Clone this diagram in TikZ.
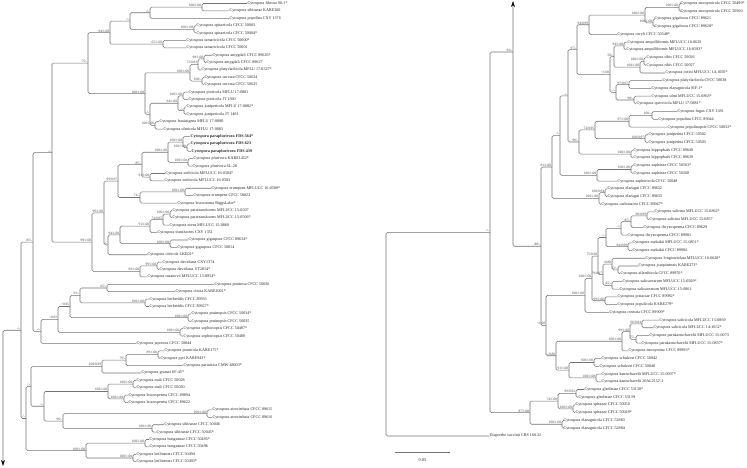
\documentclass[tikz,border=0pt]{standalone}
\usepackage{fontspec}
\setmainfont{Liberation Serif}
\usetikzlibrary{calc,arrows.meta}
\tikzset{
  br/.style={draw=black!55, line width=0.55pt, rounded corners=1.5pt},
  lf/.style={anchor=west, inner sep=0.5pt, text=black!85, font=\fontsize{4.1}{4.5}\selectfont},
  sp/.style={anchor=south east, inner sep=0.3pt, xshift=-0.3pt, text=black!72, font=\fontsize{3.5}{4}\selectfont},
  sbl/.style={inner sep=0.5pt, text=black!80, font=\fontsize{4.5}{5}\selectfont},
  tip/.style={{Stealth[length=6pt,width=3.8pt,black]}-}
}
\newcommand\LeafL[3]{\coordinate (ll#1) at ({#2-1},{3.5+(#1-1)*7.39}); \node[lf] (tll#1) at (ll#1) {#3};}
\newcommand\LeafR[3]{\coordinate (rl#1) at ({#2-1},{3.5+(#1-1)*7.72}); \node[lf] (trl#1) at (rl#1) {#3};}
\newcommand\Inode[5]{%
  \path let \p1=($(#3)!0.5!(#4)$) in coordinate (#1) at (#2pt,\y1);
  \draw[br] (#1) |- (#3) (#1) |- (#4);
  \node[sp] (s#1) at (#1) {#5};}
\begin{document}
\begin{tikzpicture}[x=1pt,y=-1pt]
\fill[white] (0,0) rectangle (747,467);
\useasboundingbox (0,0) rectangle (747,467);
% ---------------- left leaves
\LeafL{1}{248}{Cytospora fibrosa 90-1*}
\LeafL{2}{230}{Cytospora sibiraeae KARE300}
\LeafL{3}{230}{Cytospora populina CXY 1376}
\LeafL{4}{197}{Cytospora spiraeicola CFCC 50003}
\LeafL{5}{197}{Cytospora spiraeicola CFCC 50004*}
\LeafL{6}{187}{Cytospora tamaricicola CFCC 50000*}
\LeafL{7}{187}{Cytospora tamaricicola CFCC 50001}
\LeafL{8}{213}{Cytospora amygdali CFCC 89626*}
\LeafL{9}{207}{Cytospora amygdali CFCC 89627}
\LeafL{10}{202}{Cytospora platycladicola MFLU 17-0327*}
\LeafL{11}{205}{Cytospora curvata CFCC 50624}
\LeafL{12}{205}{Cytospora curvata CFCC 50625}
\LeafL{13}{189}{Cytospora piceicola MFLU 17-0881}
\LeafL{14}{189}{Cytospora piceicola JT 1360}
\LeafL{15}{187}{Cytospora junipericola MFLU 17-0882*}
\LeafL{16}{187}{Cytospora junipericola JT 1463}
\LeafL{17}{160}{Cytospora fraxinigena MFLU 17-0880}
\LeafL{18}{164}{Cytospora ulmicola MFLU 17-0883}
\LeafL{19}{191}{\bfseries Cytospora paraplurivora FDS-564*}
\LeafL{20}{191}{\bfseries Cytospora paraplurivora FDS-623}
\LeafL{21}{192}{\bfseries Cytospora paraplurivora FDS-439}
\LeafL{22}{194}{Cytospora plurivora KARE1452*}
\LeafL{23}{193}{Cytospora plurivora SL-28}
\LeafL{24}{166}{Cytospora sorbicola MFLUCC 16-0584*}
\LeafL{25}{165}{Cytospora sorbicola MFLUCC 16-0583}
\LeafL{26}{212}{Cytospora erumpens MFLUCC 16-0580*}
\LeafL{27}{194}{Cytospora erumpens CFCC 50022}
\LeafL{28}{178}{Cytospora leucostoma BiggsLalor*}
\LeafL{29}{173}{Cytospora paratranslucens MFLUCC 15-0507}
\LeafL{30}{173}{Cytospora paratranslucens MFLUCC 15-0506*}
\LeafL{31}{170}{Cytospora nivea MFLUCC 15-0860}
\LeafL{32}{158}{Cytospora translucens CXY 1351}
\LeafL{33}{189}{Cytospora gigaspora CFCC 89634*}
\LeafL{34}{178}{Cytospora gigaspora CFCC 50014}
\LeafL{35}{148}{Cytospora oleicola LKE01*}
\LeafL{36}{163}{Cytospora davidiana CXY1374}
\LeafL{37}{160}{Cytospora davidiana YT2014*}
\LeafL{38}{148}{Cytospora rusanovii MFLUCC 15-0854*}
\LeafL{39}{215}{Cytospora pruinosa CFCC 50036}
\LeafL{40}{176}{Cytospora cincta KARE1001*}
\LeafL{41}{150}{Cytospora berberidis CFCC 89933}
\LeafL{42}{150}{Cytospora berberidis CFCC 89927*}
\LeafL{43}{192}{Cytospora pruinopsis CFCC 50034*}
\LeafL{44}{192}{Cytospora pruinopsis CFCC 50035}
\LeafL{45}{184}{Cytospora sophoriopsis CFCC 50487*}
\LeafL{46}{184}{Cytospora sophoriopsis CFCC 50488}
\LeafL{47}{137}{Cytospora japonica CFCC 50044}
\LeafL{48}{165}{Cytospora prunicola KARE175*}
\LeafL{49}{161}{Cytospora pyri KARE943*}
\LeafL{50}{184}{Cytospora parasitica CMW 48003*}
\LeafL{51}{142}{Cytospora granati SF-45*}
\LeafL{52}{137}{Cytospora mali CFCC 50028}
\LeafL{53}{137}{Cytospora mali CFCC 50030}
\LeafL{54}{129}{Cytospora leucosperma CFCC 89894}
\LeafL{55}{129}{Cytospora leucosperma CFCC 89622}
\LeafL{56}{213}{Cytospora atrocirrhata CFCC 89615}
\LeafL{57}{213}{Cytospora atrocirrhata CFCC 89616}
\LeafL{58}{165}{Cytospora sibiraeae CFCC 50046}
\LeafL{59}{157}{Cytospora sibiraeae CFCC 50045*}
\LeafL{60}{150}{Cytospora bungeanae CFCC 50495*}
\LeafL{61}{150}{Cytospora bungeanae CFCC 50496}
\LeafL{62}{137}{Cytospora beilinensis CFCC 50494}
\LeafL{63}{137}{Cytospora beilinensis CFCC 50493*}
% ---------------- left internal nodes
\Inode{nA1}{202}{ll1}{ll2}{100/1.00}
\Inode{nA2}{150}{nA1}{ll3}{-/-}
\Inode{nA3}{194}{ll4}{ll5}{100/1.00}
\Inode{nA4}{130}{nA2}{nA3}{-/-}
\Inode{nA5}{163}{ll6}{ll7}{65/1.00}
\Inode{nA6}{110}{nA4}{nA5}{94/1.00}
\Inode{nC1}{204}{ll8}{ll9}{98/1.00}
\Inode{nC2}{198}{nC1}{ll10}{72/0.83}
\Inode{nC4}{202}{ll11}{ll12}{100/-}
\Inode{nC3}{190}{nC2}{nC4}{100/1.00}
\Inode{nD1}{183}{ll13}{ll14}{100/1.00}
\Inode{nD2}{184}{ll15}{ll16}{-/-}
\Inode{nD3}{178}{nD1}{nD2}{94/1.00}
\Inode{nD4}{155}{ll17}{ll18}{100/1.00}
\Inode{nD5}{150}{nD3}{nD4}{-/-}
\Inode{nCD}{145}{nC3}{nD5}{100/1.00}
\Inode{B}{88}{nA6}{nCD}{75/-}
\Inode{nE1}{187}{ll20}{ll21}{100/1.00}
\Inode{nE2}{183}{ll19}{nE1}{100/1.00}
\Inode{nE3}{188}{ll22}{ll23}{100/1.00}
\Inode{nE4}{168}{nE2}{nE3}{100/1.00}
\Inode{nE5}{150}{ll24}{ll25}{91/1.00}
\Inode{nE6}{142}{nE4}{nE5}{85/-}
\Inode{nE7}{185}{ll26}{ll27}{100/1.00}
\Inode{nE8}{140}{nE7}{ll28}{74/-}
\Inode{nE9}{118}{nE6}{nE8}{99/0.97}
\Inode{nF1}{170}{ll29}{ll30}{100/1.00}
\Inode{nF2}{163}{nF1}{ll31}{74/0.95}
\Inode{nF3}{150}{nF2}{ll32}{91/1.00}
\Inode{nF4}{170}{ll33}{ll34}{100/1.00}
\Inode{nF5}{120}{nF3}{nF4}{94/1.00}
\Inode{nF6}{108}{nF5}{ll35}{-/-}
\Inode{nE10}{104}{nE9}{nF6}{99/1.00}
\Inode{nG1}{157}{ll36}{ll37}{99/1.00}
\Inode{nG2}{140}{nG1}{ll38}{99/1.00}
\Inode{E}{92}{nE10}{nG2}{99/1.00}
\Inode{AB}{52}{B}{E}{-/-}
\Inode{nS1}{107}{ll39}{ll40}{65/-}
\Inode{nS1b}{145}{ll41}{ll42}{100/1.00}
\Inode{nS2}{80}{nS1}{nS1b}{93/-}
\Inode{nS3b}{188}{ll43}{ll44}{100/1.00}
\Inode{nS3}{70}{nS2}{nS3b}{<0.95}
\Inode{nS4b}{180}{ll45}{ll46}{100/1.00}
\Inode{nS4}{58}{nS3}{nS4b}{<0.92}
\Inode{S}{41}{nS4}{ll47}{-/-}
\Inode{Q}{33}{AB}{S}{85/-}
\Inode{nT1}{158}{ll48}{ll49}{89/1.00}
\Inode{nT2}{126}{nT1}{ll50}{79/-}
\Inode{nT3}{102}{nT2}{ll51}{100/0.99}
\Inode{nT4}{133}{ll52}{ll53}{100/1.00}
\Inode{nT5}{124}{ll54}{ll55}{100/1.00}
\Inode{nT6}{108}{nT4}{nT5}{100/1.00}
\Inode{nT8}{207}{ll56}{ll57}{100/1.00}
\Inode{nT10}{152}{ll58}{ll59}{100/1.00}
\Inode{nT9}{63}{nT8}{nT10}{96/-}
\Inode{nT11}{44}{nT6}{nT9}{-/-}
\Inode{U}{31}{nT3}{nT11}{-/-}
\Inode{nV1}{145}{ll60}{ll61}{100/1.00}
\Inode{nV2}{133}{ll62}{ll63}{100/1.00}
\Inode{V}{86}{nV1}{nV2}{100/1.00}
\Inode{T}{26}{U}{V}{-/-}
\Inode{P1}{21}{Q}{T}{-/-}
\coordinate (Lbot) at (3,466);
\draw[br,tip] (Lbot) |- (P1);
% ---------------- right leaves
\LeafR{1}{681}{Cytospora euonymicola CFCC 50499*}
\LeafR{2}{681}{Cytospora euonymicola CFCC 50500}
\LeafR{3}{655}{Cytospora gigalocus CFCC 89621}
\LeafR{4}{655}{Cytospora gigalocus CFCC 89620*}
\LeafR{5}{618}{Cytospora coryli CFCC 50548*}
\LeafR{6}{628}{Cytospora ampulliformis MFLUCC 16-0629}
\LeafR{7}{627}{Cytospora ampulliformis MFLUCC 16-0583*}
\LeafR{8}{647}{Cytospora ribis CFCC 50026}
\LeafR{9}{647}{Cytospora ribis CFCC 50027}
\LeafR{10}{666}{Cytospora cotini MFLUCC 14-1050*}
\LeafR{11}{663}{Cytospora platycladicola CFCC 50038}
\LeafR{12}{652}{Cytospora elaeagnicola SIF-1*}
\LeafR{13}{652}{Cytospora ulmi MFLUCC 15-0863*}
\LeafR{14}{637}{Cytospora quercicola MFLU 17-0881*}
\LeafR{15}{678}{Cytospora fugax CXY 1381}
\LeafR{16}{659}{Cytospora populina CFCC 89644}
\LeafR{17}{668}{Cytospora populinopsis CFCC 50032*}
\LeafR{18}{649}{Cytospora juniperina CFCC 50502}
\LeafR{19}{649}{Cytospora juniperina CFCC 50503}
\LeafR{20}{634}{Cytospora hippophaës CFCC 89640}
\LeafR{21}{634}{Cytospora hippophaës CFCC 89639}
\LeafR{22}{634}{Cytospora sophorae CFCC 50563*}
\LeafR{23}{634}{Cytospora sophorae CFCC 50568}
\LeafR{24}{618}{Cytospora sophoricola CFCC 50048}
\LeafR{25}{608}{Cytospora elaeagni CFCC 89632}
\LeafR{26}{608}{Cytospora elaeagni CFCC 89633}
\LeafR{27}{602}{Cytospora carbonacea CFCC 89947*}
\LeafR{28}{655}{Cytospora salicina MFLUCC 15-0862*}
\LeafR{29}{650}{Cytospora salicina MFLUCC 15-0857}
\LeafR{30}{644}{Cytospora chrysosperma CFCC 89629}
\LeafR{31}{628}{Cytospora chrysosperma CFCC 89981}
\LeafR{32}{633}{Cytospora melnikii MFLUCC 15-0851*}
\LeafR{33}{633}{Cytospora melnikii CFCC 89984}
\LeafR{34}{646}{Cytospora longiostiolata MFLUCC 16-0628*}
\LeafR{35}{639}{Cytospora joaquinensis KARE273*}
\LeafR{36}{621}{Cytospora ailanthicola CFCC 89970*}
\LeafR{37}{623}{Cytospora salicacearum MFLUCC 15-0509*}
\LeafR{38}{620}{Cytospora salicacearum MFLUCC 15-0861}
\LeafR{39}{618}{Cytospora pistaciae CFCC 89982*}
\LeafR{40}{618}{Cytospora populicola KARE279*}
\LeafR{41}{610}{Cytospora rostrata CFCC 89909*}
\LeafR{42}{660}{Cytospora salicicola MFLUCC 15-0869}
\LeafR{43}{654}{Cytospora salicicola MFLUCC 14-1052*}
\LeafR{44}{650}{Cytospora parakantschavelii MFLUCC 15-0073}
\LeafR{45}{642}{Cytospora parakantschavelii MFLUCC 15-0857*}
\LeafR{46}{629}{Cytospora euonymina CFCC 89993*}
\LeafR{47}{602}{Cytospora schulzeri CFCC 50042}
\LeafR{48}{600}{Cytospora schulzeri CFCC 50040}
\LeafR{49}{602}{Cytospora kantschavelii MFLUCC 15-0507*}
\LeafR{50}{602}{Cytospora kantschavelii 20AL2152-1}
\LeafR{51}{585}{Cytospora gleditsiae CFCC 53138*}
\LeafR{52}{579}{Cytospora gleditsiae CFCC 53139}
\LeafR{53}{576}{Cytospora spiraeae CFCC 50050}
\LeafR{54}{576}{Cytospora spiraeae CFCC 50049*}
\LeafR{55}{564}{Cytospora elaeagnicola CFCC 52883}
\LeafR{56}{564}{Cytospora elaeagnicola CFCC 52884}
% ---------------- right internal nodes
\Inode{nR1}{679}{rl1}{rl2}{100/1.00}
\Inode{nR3}{653}{rl3}{rl4}{100/1.00}
\Inode{nR2}{645}{nR1}{nR3}{100/1.00}
\Inode{nR4}{589}{nR2}{rl5}{94/0.99}
\Inode{nR7}{624}{rl6}{rl7}{94/1.00}
\Inode{nR10}{644}{rl8}{rl9}{100/1.00}
\Inode{nR9}{640}{nR10}{rl10}{100/1.00}
\Inode{nR8}{614}{nR7}{nR9}{50/-}
\Inode{nR12}{629}{rl11}{rl12}{97/0.97}
\Inode{nR13}{634}{rl13}{rl14}{98/-}
\Inode{nR14}{616}{nR12}{nR13}{-/-}
\Inode{nR11}{610}{nR8}{nR14}{<1.00}
\Inode{nR5}{577}{nR4}{nR11}{97/-}
\Inode{nR15}{652}{rl15}{rl16}{100/-}
\Inode{nR16}{629}{nR15}{rl17}{97/1.00}
\Inode{nR17}{645}{rl18}{rl19}{100/0.97}
\Inode{nR18}{595}{nR16}{nR17}{74/0.95}
\Inode{nR19}{631}{rl20}{rl21}{100/1.00}
\Inode{nR20}{579}{nR18}{nR19}{96/-}
\Inode{nR22}{568}{nR5}{nR20}{-/-}
\Inode{nR23}{631}{rl22}{rl23}{100/1.00}
\Inode{nR24}{597}{nR23}{rl24}{100/1.00}
\Inode{nR29}{560}{nR22}{nR24}{-/-}
\Inode{nR27}{605}{rl25}{rl26}{100/0.94}
\Inode{nR28}{599}{nR27}{rl27}{100/1.00}
\Inode{R5}{552}{nR29}{nR28}{81/1.00}
\Inode{nW1}{647}{rl28}{rl29}{98/0.99}
\Inode{nW2}{631}{nW1}{rl30}{85/-}
\Inode{nW3}{621}{nW2}{rl31}{-/-}
\Inode{nW4}{628}{rl32}{rl33}{94/0.99}
\Inode{nW5}{606}{nW3}{nW4}{-/-}
\Inode{nW7}{618}{rl35}{rl36}{72/-}
\Inode{nW6}{612}{rl34}{nW7}{<0.80}
\Inode{nW8}{612}{rl37}{rl38}{65/-}
\Inode{nW9}{603}{nW6}{nW8}{79/0.97}
\Inode{nW10}{598}{nW5}{nW9}{75/0.98}
\Inode{nW11}{605}{rl39}{rl40}{99/1.00}
\Inode{nW12}{592}{nW10}{nW11}{100/1.00}
\Inode{nW13}{585}{nW12}{rl41}{100/1.00}
\Inode{nW14}{642}{rl42}{rl43}{66/0.94}
\Inode{nW16}{636}{rl44}{rl45}{75/-}
\Inode{nW15}{630}{nW14}{nW16}{99/1.00}
\Inode{nW17}{622}{nW15}{rl46}{100/1.00}
\Inode{nW18}{594}{rl47}{rl48}{100/1.00}
\Inode{nW19}{596}{rl49}{rl50}{100/1.00}
\Inode{nW20}{569}{nW18}{nW19}{91/1.00}
\Inode{nW21}{556}{nW17}{nW20}{-/0.80}
\Inode{R6}{546}{nW13}{nW21}{<1.00}
\Inode{R4}{541}{R5}{R6}{88/-}
\coordinate (R2) at (513,52);
\coordinate (Rtop) at (513,1);
\draw[br,tip] (Rtop) |- (R4);
\node[sp] (sR2) at (R2) {92/-};
\Inode{nU1}{576}{rl51}{rl52}{99/0.92}
\Inode{nU3}{573}{rl53}{rl54}{100/1.00}
\Inode{nU2}{558}{nU1}{nU3}{74/1.00}
\Inode{nU4}{562}{rl55}{rl56}{100/1.00}
\Inode{R3}{530}{nU2}{nU4}{87/1.00}
\Inode{R1}{490}{R2}{R3}{-/-}
\coordinate (DV) at (489,436);
\node[lf] (tDV) at (DV) {Diaporthe vaccinii CBS 160.32};
\Inode{Rroot}{386}{R1}{DV}{}
% ---------------- scale bar
\coordinate (sb1) at (395,452);
\coordinate (sb2) at (450,452);
\draw[br] (sb1) -- (sb2);
\node[sbl] (sbt) at (422.5,460) {0.05};
\end{tikzpicture}
\end{document}
